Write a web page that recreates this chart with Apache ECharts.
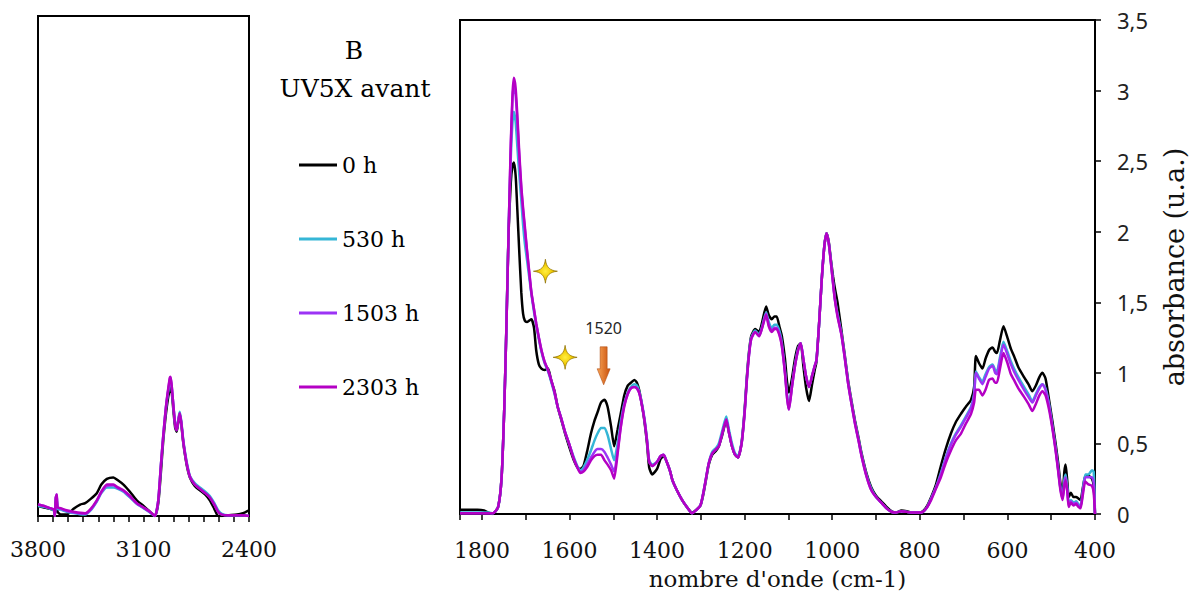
<!DOCTYPE html>
<html><head><meta charset="utf-8">
<script src="https://cdn.jsdelivr.net/npm/echarts@6/dist/echarts.min.js"></script>
<style>html,body{margin:0;padding:0;background:#fff}#c{width:1196px;height:601px}</style>
</head><body><div id="c"></div>
<script>
const seriesNames = ['0 h', '530 h', '1503 h', '2303 h'];
const seriesColors = ['#000000', '#35B6D6', '#9C33F5', '#B400C4'];

// Left panel (3800 - 2400 cm-1)
const wnLeft = [3800,3760,3720,3695,3688, 3682,3676,3670,3650,3610, 3564,3520,3487,3450,3410, 3380,3343,3300,3270,3233, 3190,3145,3100,3057,3024, 3002,2985,2969,2955,2946, 2935,2925,2920,2912,2900, 2890,2880,2870,2860,2850, 2837,2825,2810,2792,2760, 2726,2690,2660,2630,2605, 2580,2540,2480,2440,2400];
const left0h = [0.07,0.06,0.05,0.04,0.0, 0.10,0.12,0.03,0.01,0.01, 0.05,0.08,0.09,0.12,0.16, 0.22,0.26,0.27,0.25,0.22, 0.17,0.11,0.07,0.03,0.0, 0.09,0.30,0.53,0.68,0.76, 0.84,0.89,0.90,0.86,0.72, 0.62,0.59,0.65,0.71,0.65, 0.52,0.43,0.34,0.27,0.21, 0.18,0.15,0.11,0.05,0.0, 0.0,0.005,0.01,0.02,0.04];
const left530h = [0.07,0.065,0.05,0.04,0.0, 0.12,0.14,0.05,0.045,0.03, 0.02,0.012,0.01,0.04,0.10, 0.16,0.20,0.20,0.19,0.17, 0.13,0.085,0.055,0.025,0.0, 0.11,0.35,0.56,0.72,0.80, 0.88,0.94,0.95,0.89,0.75, 0.65,0.61,0.67,0.73,0.67, 0.54,0.45,0.36,0.28,0.23, 0.20,0.17,0.14,0.09,0.04, 0.015,0.005,0.005,0.005,0.0];
const left1503h = [0.08,0.07,0.055,0.045,0.0, 0.13,0.15,0.06,0.05,0.035, 0.025,0.018,0.016,0.045,0.105, 0.165,0.21,0.215,0.195,0.175, 0.135,0.088,0.058,0.028,0.0, 0.11,0.35,0.56,0.72,0.81, 0.89,0.96,0.97,0.90,0.75, 0.64,0.60,0.66,0.72,0.66, 0.53,0.44,0.35,0.275,0.22, 0.19,0.16,0.13,0.08,0.03, 0.01,0.005,0.005,0.005,0.0];
const left2303h = [0.08,0.07,0.055,0.045,0.0, 0.13,0.15,0.06,0.055,0.04, 0.03,0.022,0.019,0.05,0.11, 0.17,0.22,0.22,0.20,0.18, 0.14,0.09,0.06,0.03,0.0, 0.11,0.35,0.56,0.72,0.81, 0.90,0.97,0.975,0.90,0.75, 0.64,0.60,0.66,0.72,0.66, 0.53,0.44,0.35,0.275,0.22, 0.19,0.16,0.13,0.08,0.03, 0.01,0.005,0.005,0.005,0.0];

// Right panel (1850 - 400 cm-1)
const wnRight = [
 1850,1830,1810,1795,1785, 1775,1763,1755,1749,1744, 1739,1734,1730,1727,1723, 1719,1715,1710,1706,1702, 1697,1692,1687,1681,1676, 1670,1664,1657,1649,1642, 1634,1627,1619,1610,1600, 1590,1582,1575,1568,1560, 1551,1543,1536,1528,1520, 1513,1505,1498,1490,1483, 1475,1467,1460,1452,1446, 1441,1435,1429,1423,1418, 1411,
 1400,1392,1385,1378,1370, 1365,1355,1343,1332,1320, 1310,1301,1295,1289,1282, 1274,1265,1259,1252,1242, 1236,1229,1222,1215,1210, 1206,1200,1195,1190,1185, 1176,1167,1160,1151,1145, 1138,1132,1127,1120,1115, 1108,1103,1099,1092,1085, 1078,1072,1066,1060,1053, 1046,1040,1036,1030,1024, 1018,1013,1008,1003,998,
 994,988,979,972,964, 956,948,940,933,922, 911,900,888,876,865, 855,842,830,820,805, 793,783,774,763,752, 741,729,718,706,695, 683,676,672,665,657, 650,642,634,628,624, 617,609,600,592,585, 575,562,552,543,535, 527,520,513,505,497, 490,484,479,474,470, 467,463,460,455,449, 443,438,433,428,422, 415,407,403,400];
const right0h = [
 0.03,0.03,0.03,0.025,0.01, 0.0,0.05,0.26,0.74,1.33, 2.0,2.35,2.47,2.49,2.40, 2.15,1.88,1.57,1.42,1.37, 1.36,1.37,1.38,1.32,1.16, 1.06,1.03,1.02,1.03,0.95, 0.87,0.76,0.67,0.57,0.47, 0.38,0.33,0.32,0.34,0.44, 0.57,0.66,0.72,0.79,0.81, 0.76,0.62,0.48,0.60,0.71, 0.84,0.91,0.93,0.95,0.93, 0.88,0.78,0.66,0.50,0.33, 0.28,
 0.32,0.39,0.41,0.37,0.30, 0.24,0.17,0.10,0.05,0.01, 0.03,0.06,0.13,0.23,0.35, 0.42,0.45,0.48,0.55,0.66, 0.58,0.48,0.42,0.40,0.45, 0.53,0.74,0.97,1.15,1.26, 1.31,1.29,1.36,1.47,1.41, 1.38,1.40,1.40,1.32,1.26, 1.10,0.93,0.86,0.96,1.10, 1.19,1.21,1.05,0.90,0.80, 0.92,1.02,1.08,1.35,1.66, 1.90,1.99,1.93,1.80,1.68,
 1.60,1.50,1.30,1.14,0.95, 0.80,0.66,0.54,0.43,0.29, 0.19,0.13,0.09,0.05,0.02, 0.01,0.025,0.02,0.01,0.01, 0.02,0.06,0.12,0.21,0.34, 0.46,0.57,0.65,0.71,0.76, 0.81,0.90,1.12,1.07,1.03, 1.10,1.16,1.18,1.15,1.14, 1.23,1.33,1.25,1.17,1.12, 1.04,0.97,0.92,0.87,0.91, 0.97,1.00,0.96,0.81,0.65, 0.50,0.36,0.22,0.14,0.30, 0.35,0.22,0.12,0.15,0.12, 0.12,0.11,0.10,0.18,0.27, 0.27,0.25,0.20,0.0];
const right530h = [
 0.01,0.01,0.01,0.01,0.01, 0.005,0.05,0.26,0.74,1.33, 2.02,2.52,2.78,2.85,2.78, 2.60,2.42,2.22,2.05,1.92, 1.80,1.68,1.56,1.43,1.34, 1.24,1.15,1.07,1.01,0.94, 0.85,0.76,0.68,0.58,0.49, 0.40,0.34,0.31,0.33,0.38, 0.45,0.52,0.57,0.61,0.61, 0.56,0.46,0.38,0.50,0.65, 0.78,0.86,0.90,0.92,0.91, 0.87,0.79,0.68,0.53,0.38, 0.35,
 0.37,0.41,0.42,0.37,0.30, 0.24,0.17,0.10,0.05,0.005, 0.03,0.06,0.14,0.24,0.36, 0.44,0.47,0.50,0.58,0.69, 0.60,0.50,0.43,0.41,0.46, 0.53,0.73,0.96,1.14,1.25, 1.30,1.27,1.33,1.43,1.36, 1.32,1.34,1.34,1.29,1.21, 1.02,0.84,0.76,0.91,1.06, 1.17,1.21,1.10,0.98,0.90, 0.98,1.05,1.09,1.35,1.66, 1.90,1.99,1.92,1.79,1.64,
 1.53,1.42,1.28,1.13,0.94, 0.79,0.65,0.53,0.42,0.28, 0.18,0.12,0.08,0.04,0.016, 0.01,0.02,0.015,0.01,0.01, 0.015,0.05,0.11,0.19,0.29, 0.40,0.50,0.57,0.63,0.69, 0.76,0.85,1.01,0.97,0.94, 0.99,1.04,1.06,1.02,1.01, 1.11,1.22,1.15,1.08,1.03, 0.97,0.90,0.85,0.80,0.85, 0.90,0.92,0.89,0.78,0.62, 0.47,0.32,0.19,0.12,0.24, 0.28,0.18,0.08,0.10,0.08, 0.09,0.07,0.06,0.16,0.28, 0.28,0.31,0.30,0.0];
const right1503h = [
 0.005,0.005,0.005,0.005,0.005, 0.005,0.05,0.26,0.74,1.33, 2.01,2.60,2.95,3.04,2.97, 2.78,2.55,2.30,2.15,2.02, 1.86,1.71,1.57,1.45,1.35, 1.25,1.16,1.08,1.02,0.95, 0.86,0.76,0.68,0.58,0.49, 0.39,0.33,0.30,0.31,0.35, 0.40,0.44,0.46,0.46,0.44, 0.40,0.35,0.30,0.45,0.62, 0.77,0.85,0.89,0.90,0.89, 0.86,0.78,0.67,0.52,0.37, 0.34,
 0.37,0.41,0.42,0.37,0.30, 0.24,0.17,0.10,0.05,0.005, 0.03,0.06,0.14,0.24,0.36, 0.43,0.46,0.48,0.56,0.67, 0.58,0.48,0.42,0.40,0.45, 0.52,0.72,0.95,1.13,1.24, 1.29,1.26,1.32,1.42,1.34, 1.30,1.32,1.32,1.27,1.19, 1.00,0.82,0.74,0.90,1.05, 1.16,1.21,1.10,0.98,0.90, 0.98,1.05,1.09,1.35,1.66, 1.90,1.99,1.92,1.78,1.63,
 1.52,1.41,1.27,1.12,0.93, 0.78,0.64,0.52,0.41,0.27, 0.17,0.12,0.08,0.04,0.016, 0.01,0.02,0.015,0.01,0.01, 0.015,0.05,0.11,0.19,0.28, 0.39,0.49,0.56,0.62,0.68, 0.75,0.84,1.00,0.96,0.92, 0.97,1.03,1.05,1.00,0.99, 1.09,1.20,1.13,1.06,1.01, 0.95,0.88,0.83,0.79,0.84, 0.89,0.92,0.88,0.77,0.61, 0.46,0.31,0.18,0.11,0.22, 0.26,0.16,0.06,0.09,0.07, 0.08,0.06,0.05,0.15,0.26, 0.26,0.26,0.22,0.0];
const right2303h = [
 0.005,0.005,0.005,0.005,0.005, 0.005,0.05,0.26,0.74,1.33, 2.00,2.63,2.98,3.09,3.02, 2.82,2.58,2.32,2.17,2.04, 1.87,1.72,1.57,1.45,1.35, 1.25,1.16,1.08,1.02,0.95, 0.86,0.76,0.68,0.58,0.49, 0.39,0.33,0.29,0.30,0.33, 0.38,0.41,0.42,0.42,0.38, 0.35,0.31,0.25,0.43,0.61, 0.76,0.85,0.89,0.90,0.89, 0.86,0.78,0.67,0.52,0.37, 0.34,
 0.37,0.41,0.42,0.37,0.30, 0.24,0.17,0.10,0.05,0.005, 0.03,0.06,0.14,0.24,0.36, 0.43,0.46,0.48,0.56,0.67, 0.58,0.48,0.42,0.40,0.45, 0.52,0.72,0.95,1.13,1.24, 1.29,1.26,1.32,1.41,1.33, 1.29,1.31,1.31,1.26,1.19, 1.00,0.82,0.74,0.90,1.05, 1.16,1.21,1.10,0.98,0.90, 0.98,1.05,1.09,1.35,1.66, 1.90,1.99,1.92,1.78,1.63,
 1.52,1.40,1.27,1.12,0.93, 0.78,0.64,0.52,0.41,0.27, 0.17,0.12,0.08,0.04,0.016, 0.01,0.02,0.015,0.01,0.01, 0.015,0.05,0.10,0.18,0.26, 0.36,0.45,0.52,0.57,0.64, 0.71,0.79,0.88,0.88,0.84, 0.88,0.95,0.96,0.93,0.93, 1.03,1.14,1.07,0.99,0.95, 0.89,0.83,0.78,0.73,0.78, 0.84,0.87,0.84,0.74,0.60, 0.45,0.30,0.17,0.10,0.20, 0.24,0.15,0.05,0.08,0.06, 0.07,0.05,0.04,0.13,0.23, 0.21,0.20,0.15,0.0];

const leftSets = [left0h, left530h, left1503h, left2303h];
const rightSets = [right0h, right530h, right1503h, right2303h];

// Annotations (data coordinates in the right panel)
const starMarks = [[1655, 1.72], [1610, 1.11]];
const arrowMark = [1522, 1.05];
const bandLabel = {text: '1520', wn: 1522, a: 1.32};

const SERIF = '"DejaVu Serif", serif';
const SANS = '"Noto Sans", sans-serif';

const starPath = 'path://M12,0 C13,8 16,11 24,12 C16,13 13,16 12,24 C11,16 8,13 0,12 C8,11 11,8 12,0 Z';
const arrowPath = 'path://M3,0 L10,0 L10,22 L13,22 L6.5,38 L0,22 L3,22 Z';

const series = [];
seriesNames.forEach((name, k) => {
  series.push({
    name, type: 'line', xAxisIndex: 0, yAxisIndex: 0,
    data: wnLeft.map((w, i) => [w, leftSets[k][i]]),
    showSymbol: false, symbol: 'none', smooth: 0.2,
    lineStyle: {color: seriesColors[k], width: 2.5},
    itemStyle: {color: seriesColors[k]}
  });
});
seriesNames.forEach((name, k) => {
  const s = {
    name, type: 'line', xAxisIndex: 1, yAxisIndex: 1,
    data: wnRight.map((w, i) => [w, rightSets[k][i]]),
    showSymbol: false, symbol: 'none', smooth: 0.2,
    lineStyle: {color: seriesColors[k], width: 2.5},
    itemStyle: {color: seriesColors[k]}
  };
  if (k === 3) {
    s.markPoint = {
      silent: true,
      label: {show: false},
      data: [
        ...starMarks.map(c => ({
          coord: c, symbol: starPath, symbolSize: [24, 24],
          itemStyle: {color: {type: 'radial', x: 0.5, y: 0.5, r: 0.5, colorStops: [{offset: 0, color: '#FFEE40'}, {offset: 0.6, color: '#F0C800'}, {offset: 1, color: '#B89000'}]}, borderColor: '#8C7000', borderWidth: 0.7}
        })),
        {
          coord: arrowMark, symbol: arrowPath, symbolSize: [13, 38], symbolKeepAspect: false,
          itemStyle: {color: {type: 'linear', x: 0, y: 0, x2: 1, y2: 0, colorStops: [{offset: 0, color: '#F8A455'}, {offset: 1, color: '#C9500C'}]}, borderColor: '#B04A10', borderWidth: 0.5}
        },
        {
          coord: [bandLabel.wn, bandLabel.a], symbol: 'circle', symbolSize: 1,
          itemStyle: {color: 'rgba(0,0,0,0)'},
          label: {show: true, position: 'inside', formatter: bandLabel.text, color: '#262626', fontFamily: SANS, fontSize: 16}
        }
      ]
    };
  }
  series.push(s);
});

const chart = echarts.init(document.getElementById('c'), null, {renderer: 'svg'});
chart.setOption({
  animation: false,
  backgroundColor: '#fff',
  legend: {
    data: seriesNames, orient: 'vertical', left: 294, top: 149,
    icon: 'rect', itemWidth: 38, itemHeight: 3, itemGap: 52, selectedMode: false,
    textStyle: {fontFamily: SERIF, fontSize: 22, color: '#000', lineHeight: 22}
  },
  graphic: [
    {type: 'text', x: 354, y: 50, style: {text: 'B', font: '25px "DejaVu Serif"', fill: '#000', textAlign: 'center', textVerticalAlign: 'middle'}},
    {type: 'text', x: 355, y: 88, style: {text: 'UV5X avant', font: '25px "DejaVu Serif"', fill: '#000', textAlign: 'center', textVerticalAlign: 'middle'}}
  ],
  grid: [
    {left: 38, top: 16, width: 211, height: 500, show: true, borderColor: '#000', borderWidth: 2, backgroundColor: 'transparent'},
    {left: 460, top: 20, width: 637, height: 494, show: true, borderColor: '#000', borderWidth: 2, backgroundColor: 'transparent'}
  ],
  xAxis: [
    {
      gridIndex: 0, type: 'value', min: 2400, max: 3800, interval: 100, inverse: true,
      axisLine: {show: true, onZero: false, lineStyle: {color: '#000', width: 2}},
      axisTick: {show: true, length: 6, lineStyle: {color: '#000', width: 1.5}},
      axisLabel: {margin: 22, fontFamily: SERIF, fontSize: 22, color: '#111', showMinLabel: true, showMaxLabel: true,
        formatter: v => ((v - 2400) % 700 === 0 ? String(v) : '')},
      splitLine: {show: false}
    },
    {
      gridIndex: 1, type: 'value', min: 400, max: 1850, interval: 100, inverse: true,
      name: "nombre d'onde (cm-1)", nameLocation: 'middle', nameGap: 53,
      nameTextStyle: {fontFamily: SERIF, fontSize: 23, color: '#111'},
      axisLine: {show: true, onZero: false, lineStyle: {color: '#000', width: 2}},
      axisTick: {show: true, length: 6, lineStyle: {color: '#000', width: 1.5}},
      axisLabel: {margin: 25, fontFamily: SERIF, fontSize: 22, color: '#111',
        formatter: v => (v % 200 === 0 && v <= 1800 ? String(v) : '')},
      splitLine: {show: false}
    }
  ],
  yAxis: [
    {
      gridIndex: 0, type: 'value', min: 0, max: 3.5, interval: 0.5,
      axisLine: {show: false}, axisTick: {show: false}, axisLabel: {show: false}, splitLine: {show: false}
    },
    {
      gridIndex: 1, type: 'value', min: 0, max: 3.5, interval: 0.5, position: 'right',
      name: 'absorbance (u.a.)', nameLocation: 'middle', nameGap: 66,
      nameTextStyle: {fontFamily: SERIF, fontSize: 27, color: '#111'},
      axisLine: {show: true, onZero: false, lineStyle: {color: '#000', width: 2}},
      axisTick: {show: true, length: 6, lineStyle: {color: '#000', width: 1.5}},
      axisLabel: {margin: 22, fontFamily: SANS, fontSize: 22, color: '#222',
        formatter: v => String(v).replace('.', ',')},
      splitLine: {show: false}
    }
  ],
  series
});
</script>
</body></html>
